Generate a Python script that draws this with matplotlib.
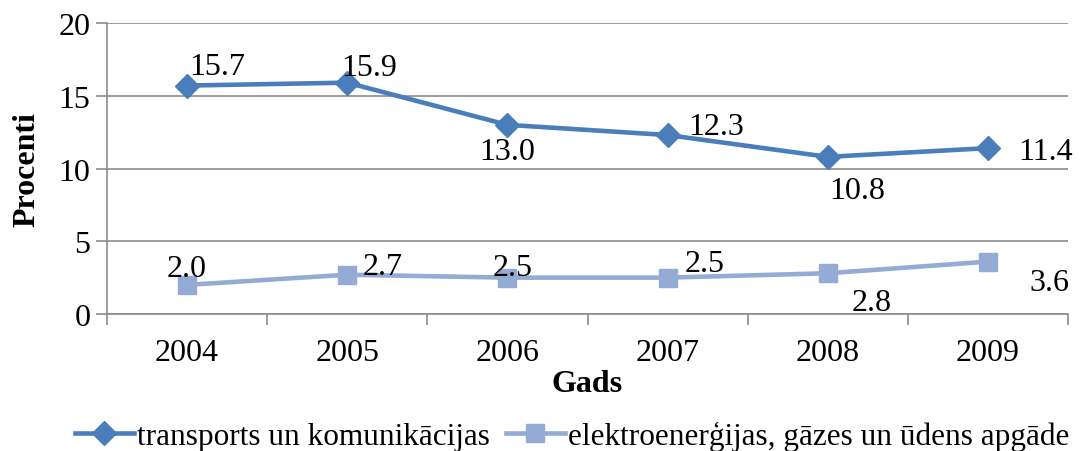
import matplotlib
matplotlib.use("Agg")
import matplotlib.pyplot as plt
from matplotlib.ticker import FixedLocator

years = ["2004", "2005", "2006", "2007", "2008", "2009"]
transport = [15.7, 15.9, 13.0, 12.3, 10.8, 11.4]
energy = [2.0, 2.7, 2.5, 2.5, 2.8, 3.6]
names = ["transports un komunikācijas", "elektroenerģijas, gāzes un ūdens apgāde"]

# label offsets in pixels (style)
off1 = [(30, 19), (22, 15), (0, -27), (49, 9), (29, -34), (58, -3)]
off2 = [(0, 16), (35, 8), (5, 10), (37, 14), (44, -29), (62, -21)]

plt.rcParams['font.family'] = ['Liberation Serif', 'DejaVu Serif']
W, H = 1081, 452
fig = plt.figure(figsize=(W/100, H/100), dpi=100)
ax = fig.add_axes([107/W, 1-315/H, (1068-107)/W, (315-24)/H])

c1 = '#4A7EBB'
c2 = '#94ABD5'
FS = 23
x = list(range(len(years)))
l1, = ax.plot(x, transport, color=c1, lw=3.3, marker='D', ms=12, label=names[0], zorder=3)
l2, = ax.plot(x, energy, color=c2, lw=3.3, marker='s', ms=13, label=names[1], zorder=3)

for xi, v, o in zip(x, transport, off1):
    ax.annotate(f"{v:.1f}", (xi, v), xytext=(o[0]*0.72, o[1]*0.72), textcoords='offset points',
                ha='center', va='center', fontsize=FS)
for xi, v, o in zip(x, energy, off2):
    ax.annotate(f"{v:.1f}", (xi, v), xytext=(o[0]*0.72, o[1]*0.72), textcoords='offset points',
                ha='center', va='center', fontsize=FS)

ax.set_xlim(-0.5, len(years)-0.5)
ax.set_ylim(0, 20)
ax.set_yticks([0, 5, 10, 15, 20])
ax.yaxis.grid(True, color='#8C8C8C', lw=1.2)
ax.set_axisbelow(True)
ax.set_xticks(x)
ax.set_xticklabels(years)
ax.xaxis.set_minor_locator(FixedLocator([i-0.5 for i in range(len(years)+1)]))
ax.tick_params(axis='x', which='major', length=0, labelsize=FS, pad=17)
ax.tick_params(axis='x', which='minor', length=8, color='#8C8C8C', width=1.2)
ax.tick_params(axis='y', length=8, color='#8C8C8C', width=1.2, labelsize=FS, pad=4)
for s in ['top', 'right']:
    ax.spines[s].set_visible(False)
for s in ['left', 'bottom']:
    ax.spines[s].set_color('#8C8C8C')
    ax.spines[s].set_linewidth(1.2)

ax.set_ylabel("Procenti", fontsize=FS, fontweight='bold', labelpad=12)
ax.set_xlabel("Gads", fontsize=FS, fontweight='bold', labelpad=2)

fig.legend(handles=[l1, l2], loc='center', bbox_to_anchor=(572/W, 1-437/H), ncol=2,
           frameon=False, fontsize=22.5, handlelength=1.9, handletextpad=0.1, columnspacing=0.5,
           borderaxespad=0)

fig.savefig("out.png", dpi=100)
